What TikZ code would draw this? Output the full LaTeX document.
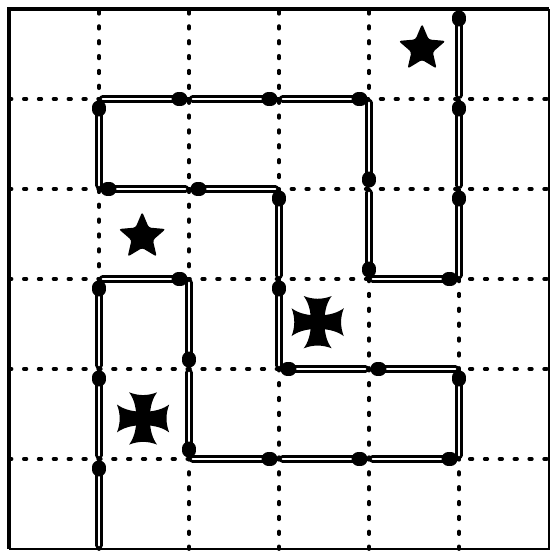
\documentclass[tikz,border=0pt]{standalone}
\usetikzlibrary{calc,shapes.geometric}
\newcommand{\pattee}[1]{%
  \foreach \a in {0,90,180,270}
    \fill[shift={(#1)}, rotate=\a] (0,0.075) .. controls (0.14,0.075) and (0.23,0.11) .. (0.29,0.155)
      .. controls (0.25,0.05) and (0.25,-0.05) .. (0.29,-0.155)
      .. controls (0.23,-0.11) and (0.14,-0.075) .. (0,-0.075) -- cycle;}

\begin{document}
\begin{tikzpicture}[
    gridline/.style={line width=1.2pt, dash pattern=on 0.8pt off 3.9pt, line cap=round},
    stick/.style={line width=0.85pt, double=white, double distance=0.65pt, line cap=round},
    matchhead/.style={line width=4.2pt, line cap=round},
    mark star/.style={star, star points=5, star point ratio=2.2, fill, minimum size=0.55cm, inner sep=0pt, rounded corners=0.8pt}]
  \useasboundingbox (-0.1,-0.056) rectangle (6.011,6.1);
  % dotted grid
  \foreach \k in {1,...,5} {
    \draw[gridline] (\k,0) -- (\k,6);
    \draw[gridline] (0,\k) -- (6,\k);
  }
  % frame
  \draw[line width=1.1pt] (0,0) -- (0,6) -- (6,6);
  \draw[line width=0.5pt] (6,6) -- (6,0) -- (0,0);
  % matches: tail/head
  \foreach \t/\h in {{1,5}/{2,5}, {2,5}/{3,5}, {3,5}/{4,5},
                     {2,4}/{1,4}, {3,4}/{2,4}, {4,3}/{5,3}, {1,3}/{2,3},
                     {4,2}/{3,2}, {5,2}/{4,2}, {2,1}/{3,1}, {3,1}/{4,1}, {4,1}/{5,1},
                     {1,4}/{1,5}, {4,5}/{4,4}, {5,5}/{5,6}, {5,4}/{5,5},
                     {3,3}/{3,4}, {4,4}/{4,3}, {5,3}/{5,4}, {1,2}/{1,3},
                     {2,3}/{2,2}, {3,2}/{3,3}, {5,1}/{5,2}, {1,1}/{1,2},
                     {2,2}/{2,1}, {1,0}/{1,1}} {
    \draw[stick] ($(\t)!0.04!(\h)$) -- ($(\t)!0.88!(\h)$);
    \draw[matchhead] ($(\t)!0.88!(\h)$) -- ($(\t)!0.91!(\h)$);
  }
  % stars and crosses
  \node[mark star] (star1) at (4.59,5.56) {};
  \node[mark star] (star2) at (1.48,3.47) {};
  \pattee{3.43,2.52}
  \pattee{1.49,1.45}
\end{tikzpicture}
\end{document}
